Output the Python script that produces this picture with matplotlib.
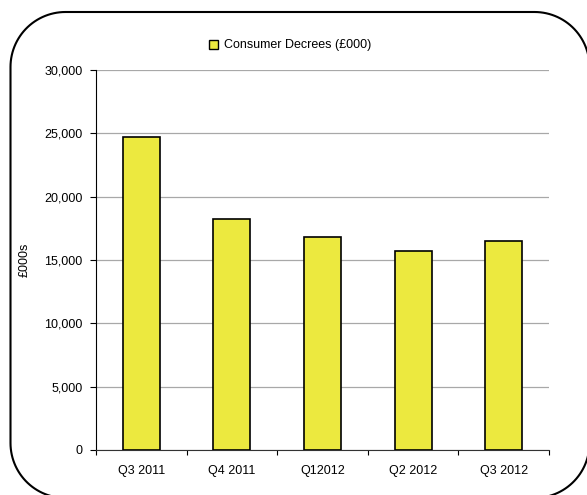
import numpy as np
import matplotlib.pyplot as plt
from matplotlib.patches import Polygon, Rectangle
from matplotlib.ticker import FuncFormatter, FixedLocator

# Дані
quarters = ['Q3 2011', 'Q4 2011', 'Q12012', 'Q2 2012', 'Q3 2012']
decrees = [24730, 18240, 16820, 15710, 16500]
series_name = 'Consumer Decrees (£000)'

plt.rcParams['font.family'] = ['Liberation Sans', 'DejaVu Sans']

W, H = 587, 495
fig = plt.figure(figsize=(W / 100, H / 100), dpi=100)

# Рамка із заокругленими кутами (координати в пікселях)
x0, x1, y0, y1, r = 10.5, 589.5, -3, 483, 55
pts = []
for cx, cy, a0 in [(x1 - r, y1 - r, 0), (x0 + r, y1 - r, 90),
                   (x0 + r, y0 + r, 180), (x1 - r, y0 + r, 270)]:
    ang = np.radians(np.linspace(a0, a0 + 90, 30))
    pts += list(zip(cx + r * np.cos(ang), cy + r * np.sin(ang)))
pts = np.array(pts) / [W, H]
fig.patches.append(Polygon(pts, closed=True, fill=False, edgecolor='black',
                           linewidth=1.5, transform=fig.transFigure))

ax = fig.add_axes([96 / W, 45 / H, 453 / W, 380 / H])
x = np.arange(len(quarters))
ax.bar(x, decrees, width=0.41, color='#ECE93F', edgecolor='black',
       linewidth=1.2, zorder=3)

ax.set_xlim(-0.5, len(quarters) - 0.5)
ax.set_ylim(0, 30000)
ax.set_yticks(np.arange(0, 30001, 5000))
ax.yaxis.set_major_formatter(FuncFormatter(lambda v, p: f'{int(v):,}'))
ax.grid(axis='y', color='#a8a8a8', linewidth=0.9, zorder=0)

ax.set_xticks(x)
ax.set_xticklabels(quarters, fontsize=9)
ax.tick_params(axis='x', which='major', length=0, pad=11)
ax.xaxis.set_minor_locator(FixedLocator(np.arange(-0.5, len(quarters), 1.0)))
ax.tick_params(axis='x', which='minor', length=3.5, width=0.8)
ax.tick_params(axis='y', labelsize=9, length=4, width=0.8, pad=5.5)

for s in ['top', 'right']:
    ax.spines[s].set_visible(False)
ax.spines['left'].set_linewidth(0.8)
ax.spines['bottom'].set_linewidth(0.8)
ax.spines['bottom'].set_color('#333333')

ax.set_ylabel('£000s', fontsize=9, labelpad=10)

# Легенда
fig.patches.append(Rectangle((209 / W, 446 / H), 9 / W, 9 / H,
                             transform=fig.transFigure, facecolor='#ECE93F',
                             edgecolor='black', linewidth=1.0))
fig.text(224 / W, 450 / H, series_name, fontsize=9, va='center', ha='left')

fig.savefig('out.png', dpi=100)
